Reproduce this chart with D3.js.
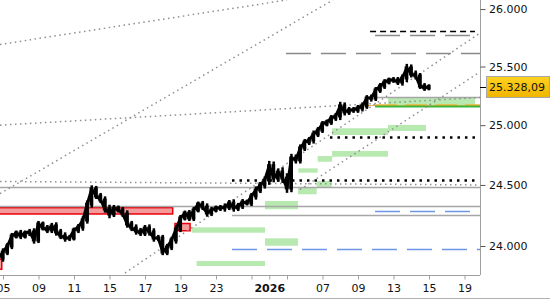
<!DOCTYPE html>
<html>
<head>
<meta charset="utf-8">
<script src="https://cdn.jsdelivr.net/npm/d3@7"></script>
<style>
  body { margin: 0; background: #fff; }
  text { font-family: "DejaVu Sans", Verdana, sans-serif; }
</style>
</head>
<body>
<div id="chart"></div>
<script>
// DATA //

// x is measured in trading days, 0 = Dec 05; closes are quarter-day steps starting at t0
let t0 = -0.25, tStep = 0.25;
let closes = [
  23903, 23951, 24000, 24081, 24106, 24081, 24106, 24114, 24049, 24179,
  24146, 24130, 24163, 24114, 24081, 24065, 24065, 24130, 24154, 24212,
  24343, 24467, 24409, 24376, 24302, 24261, 24310, 24294, 24261, 24179,
  24146, 24122, 24106, 24146, 24114, 24065, 24065, 23951, 23992, 24049,
  24138, 24228, 24269, 24228, 24294, 24343, 24318, 24269, 24294, 24310,
  24310, 24318, 24351, 24310, 24327, 24359, 24351, 24409, 24458, 24500,
  24541, 24660, 24557, 24607, 24557, 24475, 24724, 24708, 24808, 24858,
  24875, 24925, 24959, 25010, 25027, 25061, 25078, 25163, 25112, 25129,
  25129, 25146, 25163, 25230, 25230, 25299, 25333, 25367, 25385, 25385,
  25367, 25402, 25488, 25436, 25419, 25333, 25316, 25328
];
// wick length (points above and below each candle body)
let wicks = [
  25, 30, 25, 25, 20, 25, 20, 25, 30, 25,
  20, 25, 25, 30, 25, 30, 25, 20, 25, 30,
  30, 30, 25, 25, 30, 35, 25, 20, 25, 30,
  25, 30, 25, 25, 30, 30, 25, 25, 25, 25,
  30, 25, 20, 25, 25, 20, 25, 30, 25, 20,
  25, 30, 25, 30, 25, 25, 20, 25, 30, 25,
  30, 40, 35, 30, 40, 40, 35, 30, 30, 25,
  25, 30, 25, 25, 20, 25, 25, 35, 30, 25,
  25, 25, 30, 25, 30, 25, 25, 25, 20, 25,
  25, 30, 35, 30, 30, 25, 25, 20
];
let lastPrice = 25328.09;

// bottom axis
let dayTicks  = [0, 2, 4, 6, 8, 10, 12, 14, 15, 16, 18, 20, 22, 24, 26];
let dayLabels = ["05", "09", "11", "15", "17", "19", "23", "", "2026", "", "07", "09", "13", "15", "19"];

// right axis
let priceTicks = [24000, 24500, 25000, 25500, 26000];

// dotted trend lines [day0, price0, day1, price1]
let trendLines = [
  [-0.17, 25691, 16.0, 26080],
  [-0.17, 24428, 18.59, 26080],
  [-0.17, 25000, 26.87, 25235],
  [6.87, 23782, 26.87, 25790],
  [16.73, 24462, 26.87, 25453],
  [-0.17, 24529, 26.87, 24500]
];

// horizontal levels [day0, day1, price]
let greyLevels   = [[-1, 27, 24487], [-1, 27, 24327], [12.9, 27, 24253], [20.96, 27, 25235]];
let blackDotted  = [[12.9, 26.76, 24541], [18.42, 26.76, 24900]];
let blackDashed  = [[20.68, 26.59, 25808]];
let greyDashed   = [[20.96, 26.31, 25773], [15.94, 27, 25613]];
let blueDashed   = [[12.9, 27, 23973], [20.96, 26.31, 24285]];
let greenLevels  = [[20.96, 27, 25163]];
let orangeLevels = [[19.94, 27, 25175]];

// zones [day0, day1, priceLow, priceHigh]
let greenZones = [
  [10.63, 14.76, 24108, 24152],
  [10.91, 14.76, 23838, 23879],
  [14.76, 16.62, 24300, 24368],
  [14.76, 16.62, 24002, 24062],
  [16.62, 17.67, 24423, 24481],
  [17.67, 18.52, 24481, 24533],
  [16.64, 17.73, 24602, 24638],
  [17.73, 18.54, 24693, 24741],
  [18.54, 21.69, 24735, 24783],
  [18.54, 21.69, 24917, 24974],
  [21.69, 23.83, 24951, 25002],
  [21.69, 26.59, 25171, 25233]
];
let redZones = [
  [-1, 9.56, 24261, 24313],
  [9.69, 10.54, 24124, 24183],
  [-1, -0.07, 23812, 23893]
];

// DIMENSIONS //
let W = 550, H = 300;
let plotW = 480, plotH = 275;

let svg = d3.select("#chart").append("svg")
  .attr("width", W).attr("height", H);

svg.append("defs").append("clipPath").attr("id", "plot")
  .append("rect").attr("width", plotW).attr("height", plotH);

let x = d3.scaleLinear().domain([0, 26]).range([3, 464.5]);
let y = d3.scaleLog().domain([24000, 26000]).range([246, 9.07]);

let g = svg.append("g").attr("clip-path", "url(#plot)");

// ZONES //
g.selectAll(".gz").data(greenZones).enter().append("rect")
  .attr("x", d => x(d[0])).attr("width", d => x(d[1]) - x(d[0]))
  .attr("y", d => y(d[3])).attr("height", d => y(d[2]) - y(d[3]))
  .attr("fill", "#b7e9b1");

g.selectAll(".rz").data(redZones).enter().append("rect")
  .attr("x", d => x(d[0])).attr("width", d => x(d[1]) - x(d[0]))
  .attr("y", d => y(d[3])).attr("height", d => y(d[2]) - y(d[3]))
  .attr("fill", "#f59a9a").attr("stroke", "#e8000b").attr("stroke-width", 1.5);

// LEVELS //
function levels(data, color, width, dash) {
  g.append("g").selectAll("line").data(data).enter().append("line")
    .attr("x1", d => x(d[0])).attr("x2", d => x(d[1]))
    .attr("y1", d => Math.round(y(d[2])) + 0.5).attr("y2", d => Math.round(y(d[2])) + 0.5)
    .attr("stroke", color).attr("stroke-width", width)
    .attr("stroke-dasharray", dash);
}
levels(greyLevels, "#a6a6a6", 1.5, null);
levels(greyDashed, "#8a8a8a", 1.5, "25,10");
levels(blueDashed, "#6f96e6", 1.5, "25,10");
levels(blackDashed, "#000", 1.5, "6,4");
levels(blackDotted, "#000", 2.5, "2.5,5");
levels(orangeLevels, "#f7b84b", 1, null);
levels(orangeLevels.map(d => [20.96, d[1], d[2]]), "#f5b335", 2.5, "22,8");
levels(greenLevels, "#3db53d", 2, null);

// TREND LINES //
g.append("g").selectAll("line").data(trendLines).enter().append("line")
  .attr("x1", d => x(d[0])).attr("y1", d => y(d[1]))
  .attr("x2", d => x(d[2])).attr("y2", d => y(d[3]))
  .attr("stroke", "#8f8f8f").attr("stroke-width", 1.5)
  .attr("stroke-dasharray", "1.5,3.5");

// PRICE //
let line = d3.line()
  .x((d, i) => x(t0 + i * tStep))
  .y(d => y(d));

g.append("path").datum(closes)
  .attr("d", line)
  .attr("fill", "none").attr("stroke", "#000")
  .attr("stroke-width", 3).attr("stroke-linejoin", "miter").attr("stroke-miterlimit", 2);

// candles: body from previous close to close, plus wick
let candles = closes.map((c, i) => {
  let o = i > 0 ? closes[i - 1] : c;
  return {t: t0 + i * tStep, lo: Math.min(o, c), hi: Math.max(o, c), w: wicks[i]};
});
let cw = x(tStep) - x(0);

g.append("g").selectAll("rect").data(candles).enter().append("rect")
  .attr("x", d => x(d.t) - 1.25).attr("width", 2.5)
  .attr("y", d => y(d.hi + d.w)).attr("height", d => y(d.lo - d.w) - y(d.hi + d.w))
  .attr("fill", "#000");

g.append("g").selectAll("rect").data(candles).enter().append("rect")
  .attr("x", d => x(d.t) - cw / 2).attr("width", cw * 0.85)
  .attr("y", d => y(d.hi) - 1.5).attr("height", d => y(d.lo) - y(d.hi) + 3)
  .attr("fill", "#000");

// AXES //
svg.append("line").attr("x1", 0).attr("x2", plotW).attr("y1", plotH + 0.5).attr("y2", plotH + 0.5)
  .attr("stroke", "#a0a0a0");
svg.append("line").attr("x1", plotW + 0.5).attr("x2", plotW + 0.5).attr("y1", 0).attr("y2", plotH)
  .attr("stroke", "#a0a0a0");
svg.append("line").attr("x1", 0).attr("x2", W).attr("y1", 298.5).attr("y2", 298.5)
  .attr("stroke", "#b0b0b0");

let xAxis = svg.append("g").attr("transform", "translate(0," + (plotH + 0.5) + ")")
  .call(d3.axisBottom(x).tickValues(dayTicks).tickSize(4).tickSizeOuter(0)
    .tickFormat((d, i) => dayLabels[i]));
xAxis.select(".domain").remove();
xAxis.selectAll("line").attr("stroke", "#a0a0a0");
xAxis.selectAll("text").attr("font-size", 11).attr("fill", "#111").attr("dy", "0.85em")
  .attr("font-family", "DejaVu Sans")
  .attr("font-weight", (d, i) => dayLabels[i] == "2026" ? "bold" : null);

let yAxis = svg.append("g").attr("transform", "translate(" + (plotW + 0.5) + ",0)")
  .call(d3.axisRight(y).tickValues(priceTicks).tickSize(5).tickSizeOuter(0)
    .tickFormat(d => d3.format(",")(d).replace(",", ".")));
yAxis.select(".domain").remove();
yAxis.selectAll("line").attr("stroke", "#555");
yAxis.selectAll("text").attr("font-size", 11).attr("fill", "#111").attr("x", 8.5)
  .attr("font-family", "DejaVu Sans");

// last price marker
let ly = y(lastPrice);
svg.append("line").attr("x1", plotW).attr("x2", 487).attr("y1", Math.round(ly) + 0.5).attr("y2", Math.round(ly) + 0.5)
  .attr("stroke", "#000");
let grad = svg.select("defs").append("linearGradient").attr("id", "gold")
  .attr("x1", 0).attr("x2", 0).attr("y1", 0).attr("y2", 1);
grad.append("stop").attr("offset", "0%").attr("stop-color", "#ffd21f");
grad.append("stop").attr("offset", "100%").attr("stop-color", "#f0b400");
svg.append("rect").attr("x", 486.5).attr("y", Math.round(ly) - 10.5).attr("width", 63).attr("height", 21)
  .attr("fill", "url(#gold)").attr("stroke", "#a8a8a8");
svg.append("text").attr("x", 489).attr("y", ly).attr("dy", "0.36em")
  .attr("font-size", 11).attr("fill", "#111")
  .text(d3.format(",.2f")(lastPrice).replace(",", "X").replace(".", ",").replace("X", "."));
</script>
</body>
</html>
